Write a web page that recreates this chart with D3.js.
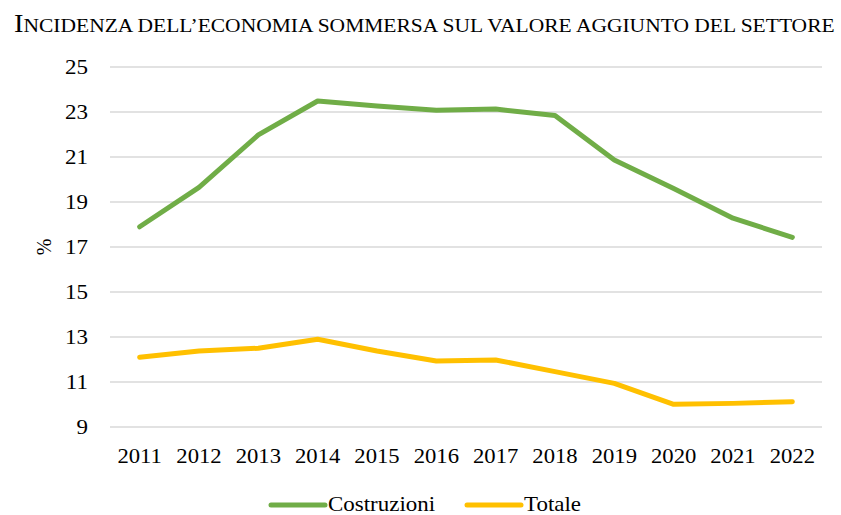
<!DOCTYPE html>
<html>
<head>
<meta charset="utf-8">
<script src="https://cdn.jsdelivr.net/npm/d3@7"></script>
<style>
  html, body { margin: 0; padding: 0; background: #fff; }
  svg { display: block; font-family: "Liberation Serif", "Times New Roman", serif; }
</style>
</head>
<body>
<svg id="chart" width="841" height="515"></svg>
<script>
// Anni e serie (% del valore aggiunto)
const years = ["2011","2012","2013","2014","2015","2016","2017","2018","2019","2020","2021","2022"];
const costruzioni = [17.9, 19.65, 21.98, 23.49, 23.27, 23.08, 23.13, 22.84, 20.87, 19.6, 18.28, 17.43];
const totale = [12.1, 12.38, 12.5, 12.9, 12.38, 11.93, 11.98, 11.46, 10.94, 10.01, 10.05, 10.12];
const yTicks = [9, 11, 13, 15, 17, 19, 21, 23, 25];
const seriesNames = ["Costruzioni", "Totale"];
const seriesColors = ["#70AD47", "#FFC000"];
const titleText = "Incidenza dell\u2019economia sommersa sul valore aggiunto del settore";

const svg = d3.select("#chart");
const margin = { left: 110, right: 19, top: 67, bottom: 88 };
const W = 841, H = 515;
const WIDE = 1.12; // lettering leggermente allargato

const x = d3.scaleBand().domain(years).range([margin.left, W - margin.right]);
const y = d3.scaleLinear().domain([9, 25]).range([H - margin.bottom, margin.top]);

// Titolo in maiuscoletto: iniziale grande, resto in maiuscole ridotte
const titleG = svg.append("g");
const title = titleG.append("text")
  .attr("x", 0).attr("y", 0)
  .attr("fill", "#000");
title.append("tspan")
  .style("font-size", "26px")
  .text(titleText.charAt(0).toUpperCase());
title.append("tspan")
  .style("font-size", "19.6px")
  .text(titleText.slice(1).toUpperCase());
const tw = title.node().getComputedTextLength();
titleG.attr("transform", `translate(14,32) scale(${821 / tw},1)`);

// Griglia orizzontale
svg.append("g")
  .selectAll("line")
  .data(yTicks)
  .join("line")
  .attr("x1", margin.left).attr("x2", W - margin.right)
  .attr("y1", d => y(d)).attr("y2", d => y(d))
  .attr("stroke", "#D9D9D9").attr("stroke-width", 1.3);

// Asse Y
const yAxis = svg.append("g")
  .attr("transform", `translate(${margin.left - 22},0)`)
  .call(d3.axisLeft(y).tickValues(yTicks).tickSize(0).tickPadding(0));
yAxis.select(".domain").remove();
yAxis.selectAll("text")
  .style("font-family", "Liberation Serif, serif")
  .style("font-size", "20px")
  .attr("transform", "scale(1.15,1)")
  .attr("fill", "#000");

// Etichetta asse Y
svg.append("text")
  .attr("transform", `translate(51,${y(17)}) rotate(-90)`)
  .attr("text-anchor", "middle")
  .style("font-size", "20px")
  .attr("fill", "#000")
  .text("%");

// Asse X
const xAxis = svg.append("g")
  .attr("transform", `translate(0,${y(9)})`)
  .call(d3.axisBottom(x).tickSize(0).tickPadding(21));
xAxis.select(".domain").remove();
xAxis.selectAll("text")
  .style("font-family", "Liberation Serif, serif")
  .style("font-size", "21px")
  .attr("transform", "scale(1.08,1)")
  .attr("fill", "#000");

// Linee
const line = d3.line()
  .x((d, i) => x(years[i]) + x.bandwidth() / 2)
  .y(d => y(d));

[costruzioni, totale].forEach((vals, k) => {
  svg.append("path")
    .datum(vals)
    .attr("d", line)
    .attr("fill", "none")
    .attr("stroke", seriesColors[k])
    .attr("stroke-width", 5)
    .attr("stroke-linecap", "round")
    .attr("stroke-linejoin", "round");
});

// Legenda
const legendX = [269, 465];
const legend = svg.append("g");
seriesNames.forEach((name, k) => {
  const g = legend.append("g").attr("transform", `translate(${legendX[k]},505)`);
  g.append("line")
    .attr("x1", 2).attr("x2", 56)
    .attr("y1", 0).attr("y2", 0)
    .attr("stroke", seriesColors[k])
    .attr("stroke-width", 5)
    .attr("stroke-linecap", "round");
  g.append("text")
    .attr("transform", `translate(59,6) scale(${WIDE},1)`)
    .style("font-size", "20.5px")
    .attr("fill", "#000")
    .text(name);
});
</script>
</body>
</html>
